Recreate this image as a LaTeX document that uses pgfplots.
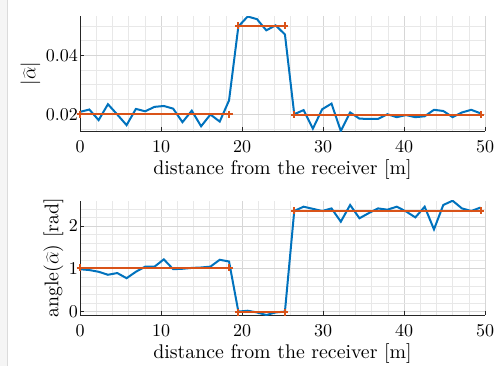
\RequirePackage{fix-cm}
\documentclass[border=0pt]{standalone}
\usepackage{fontspec}
\setmainfont{lmroman10-regular}[Extension=.otf]
\usepackage{pgfplots}
\pgfplotsset{compat=1.18}
\definecolor{mblue}{rgb}{0,0.447,0.741}
\definecolor{morange}{rgb}{0.85,0.325,0.098}
\definecolor{axc}{rgb}{0.15,0.15,0.15}
\pgfplotstableread{
x y
0 0.0208
1.15 0.0216
2.3 0.0180
3.45 0.0234
4.6 0.0199
5.75 0.0163
6.9 0.0218
8.05 0.0210
9.2 0.0225
10.35 0.0228
11.5 0.0219
12.65 0.0173
13.8 0.0212
14.95 0.0159
16.1 0.0199
17.25 0.0175
18.4 0.0247
19.55 0.0498
20.7 0.0532
21.85 0.0523
23.0 0.0485
24.15 0.0502
25.3 0.0471
26.45 0.0200
27.6 0.0214
28.75 0.0151
29.9 0.0217
31.05 0.0236
32.2 0.0143
33.35 0.0206
34.5 0.0185
35.65 0.0184
36.8 0.0184
37.95 0.0200
39.1 0.0190
40.25 0.0197
41.4 0.0190
42.55 0.0193
43.7 0.0215
44.85 0.0211
46.0 0.0190
47.15 0.0206
48.3 0.0215
49.45 0.0203
}\magdata
\pgfplotstableread{
x y
0 0.99
1.15 0.97
2.3 0.93
3.45 0.86
4.6 0.90
5.75 0.78
6.9 0.93
8.05 1.05
9.2 1.05
10.35 1.22
11.5 0.99
12.65 1.00
13.8 1.02
14.95 1.03
16.1 1.05
17.25 1.21
18.4 1.17
19.55 0.00
20.7 0.02
21.85 -0.02
23.0 -0.08
24.15 -0.02
25.3 0.00
26.45 2.35
27.6 2.45
28.75 2.40
29.9 2.35
31.05 2.41
32.2 2.10
33.35 2.49
34.5 2.18
35.65 2.30
36.8 2.41
37.95 2.38
39.1 2.45
40.25 2.34
41.4 2.20
42.55 2.45
43.7 1.92
44.85 2.49
46.0 2.59
47.15 2.41
48.3 2.35
49.45 2.43
}\angdata
\pgfplotsset{
  mystyle/.style={
    scale only axis, width=405pt,
    xmin=0, xmax=50, xtick={0,10,...,50}, minor xtick={2,4,...,48},
    axis x line*=bottom, axis y line*=left,
    tick align=inside, major tick length=4pt, minor tick length=0pt,
    grid=both,
    major grid style={black!16, line width=0.6pt},
    minor grid style={black!9, line width=0.6pt},
    axis line style={axc, line width=0.7pt},
    tick style={axc, line width=0.7pt},
    scaled y ticks=false,
    /pgf/number format/assume math mode=true,
    tick label style={font=\fontsize{18}{21}\selectfont},
    label style={font=\fontsize{19.8}{23}\selectfont},
    xlabel={distance from the receiver [m]},
    yticklabel style={inner xsep=2pt},
    xticklabel style={yshift=-5.5pt},
    every axis plot/.append style={line width=2pt},
  }
}
\begin{document}
\begin{tikzpicture}[font=\fontsize{18}{21}\selectfont]
\path[use as bounding box] (0,0) rectangle (502pt,-366pt);
\fill[black!4] (0,0) rectangle (7pt,-366pt);
\draw[black!14, line width=0.8pt] (7.4pt,0) -- (7.4pt,-366pt);
\begin{axis}[mystyle, at={(80pt,-131pt)}, anchor=south west, height=114.5pt,
  ymin=0.0143, ymax=0.0532, ytick={0.02,0.04}, yticklabels={0.02,0.04},
  minor ytick={0.015,0.025,0.03,0.035,0.045,0.05},
  ylabel={$|\widehat{\alpha}|$}]
\addplot[mblue, no marks] table[x=x,y=y] {\magdata};
\addplot[morange, mark=+, mark size=3.5pt] coordinates {(0,0.0200) (18.4,0.0200)};
\addplot[morange, mark=+, mark size=3.5pt] coordinates {(19.55,0.0500) (25.3,0.0500)};
\addplot[morange, mark=+, mark size=3.5pt] coordinates {(26.45,0.0199) (49.45,0.0199)};
\end{axis}
\begin{axis}[mystyle, at={(80pt,-315pt)}, anchor=south west, height=114.3pt,
  ymin=-0.08, ymax=2.59, ytick={0,1,2},
  minor ytick={0.2,0.4,0.6,0.8,1.2,1.4,1.6,1.8,2.2,2.4},
  ylabel={angle($\widehat{\alpha}$)~[rad]}]
\addplot[mblue, no marks] table[x=x,y=y] {\angdata};
\addplot[morange, mark=+, mark size=3.5pt] coordinates {(0,1.02) (18.4,1.02)};
\addplot[morange, mark=+, mark size=3.5pt] coordinates {(19.55,-0.01) (25.3,-0.01)};
\addplot[morange, mark=+, mark size=3.5pt] coordinates {(26.45,2.35) (49.45,2.35)};
\end{axis}
\end{tikzpicture}
\end{document}
